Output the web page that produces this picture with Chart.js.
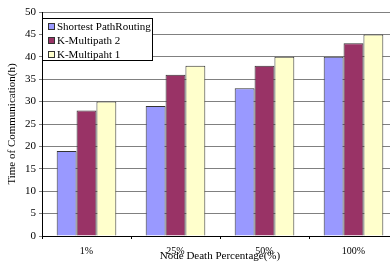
<!DOCTYPE html>
<html>
<head>
<meta charset="utf-8">
<script src="https://cdn.jsdelivr.net/npm/chart.js@4/dist/chart.umd.min.js"></script>
<style>
  html, body { margin: 0; padding: 0; background: #fff; overflow: hidden; }
  #wrap { width: 400px; height: 263px; position: relative; }
</style>
</head>
<body>
<div id="wrap"><canvas id="c"></canvas></div>
<script>
const categories = ['1%', '25%', '50%', '100%'];
const shortestPath = [19, 29, 33, 40];
const kMultipath2 = [28, 36, 38, 43];
const kMultipath1 = [30, 38, 40, 45];
const seriesNames = ['Shortest PathRouting', 'K-Multipath 2', 'K-Multipaht 1'];
const yTicks = [0, 5, 10, 15, 20, 25, 30, 35, 40, 45, 50];

const FONT = "'Liberation Serif', 'Times New Roman', serif";

// legend box sitting inside the plot, top-left
const boxLegend = {
  id: 'boxLegend',
  afterDraw(chart) {
    const { ctx, chartArea } = chart;
    const x = chartArea.left, y = 18, w = 110, h = 42;
    ctx.save();
    ctx.fillStyle = '#fff';
    ctx.fillRect(x, y, w, h);
    ctx.strokeStyle = '#000';
    ctx.lineWidth = 1;
    ctx.strokeRect(x + 0.5, y + 0.5, w, h);
    ctx.font = '11px ' + FONT;
    ctx.textBaseline = 'middle';
    chart.data.datasets.forEach((ds, i) => {
      const cy = y + 8 + i * 14;
      ctx.fillStyle = ds.backgroundColor;
      ctx.fillRect(x + 6, cy - 3, 6, 6);
      ctx.strokeStyle = '#333';
      ctx.strokeRect(x + 6.5, cy - 2.5, 6, 6);
      ctx.fillStyle = '#000';
      ctx.fillText(ds.label, x + 15, cy + 1);
    });
    ctx.restore();
  }
};

new Chart(document.getElementById('c'), {
  type: 'bar',
  data: {
    labels: categories,
    datasets: [
      { label: seriesNames[0], data: shortestPath, backgroundColor: '#9999FF' },
      { label: seriesNames[1], data: kMultipath2, backgroundColor: '#993366' },
      { label: seriesNames[2], data: kMultipath1, backgroundColor: '#FFFFCC' }
    ].map(d => Object.assign(d, { borderColor: '#333', borderWidth: 1, categoryPercentage: 0.67, barPercentage: 1 }))
  },
  options: {
    responsive: true, maintainAspectRatio: false, animation: false,
    layout: { padding: { top: 12, right: 2, left: 0, bottom: 0 } },
    plugins: { legend: { display: false }, tooltip: { enabled: false } },
    scales: {
      x: {
        afterFit: s => { s.height = 27; },
        grid: { display: true, drawOnChartArea: false, color: '#000', tickLength: 3, offset: true },
        border: { color: '#000' },
        ticks: { color: '#000', font: { family: FONT, size: 10 }, padding: 6 },
        title: { display: true, text: 'Node Death Percentage(%)', color: '#000', font: { family: FONT, size: 11 }, padding: { top: -6, bottom: 0 } }
      },
      y: {
        min: 0, max: 50,
        afterFit: s => { s.width = 42; },
        afterBuildTicks: s => { s.ticks = yTicks.map(v => ({ value: v })); },
        grid: { color: '#808080', tickLength: 3 },
        border: { color: '#000' },
        ticks: { color: '#000', font: { family: FONT, size: 11 }, padding: 3 },
        title: { display: true, text: 'Time of Communication(h)', color: '#000', font: { family: FONT, size: 11 }, padding: { top: 6, bottom: 0 } }
      }
    }
  },
  plugins: [boxLegend]
});
</script>
</body>
</html>
